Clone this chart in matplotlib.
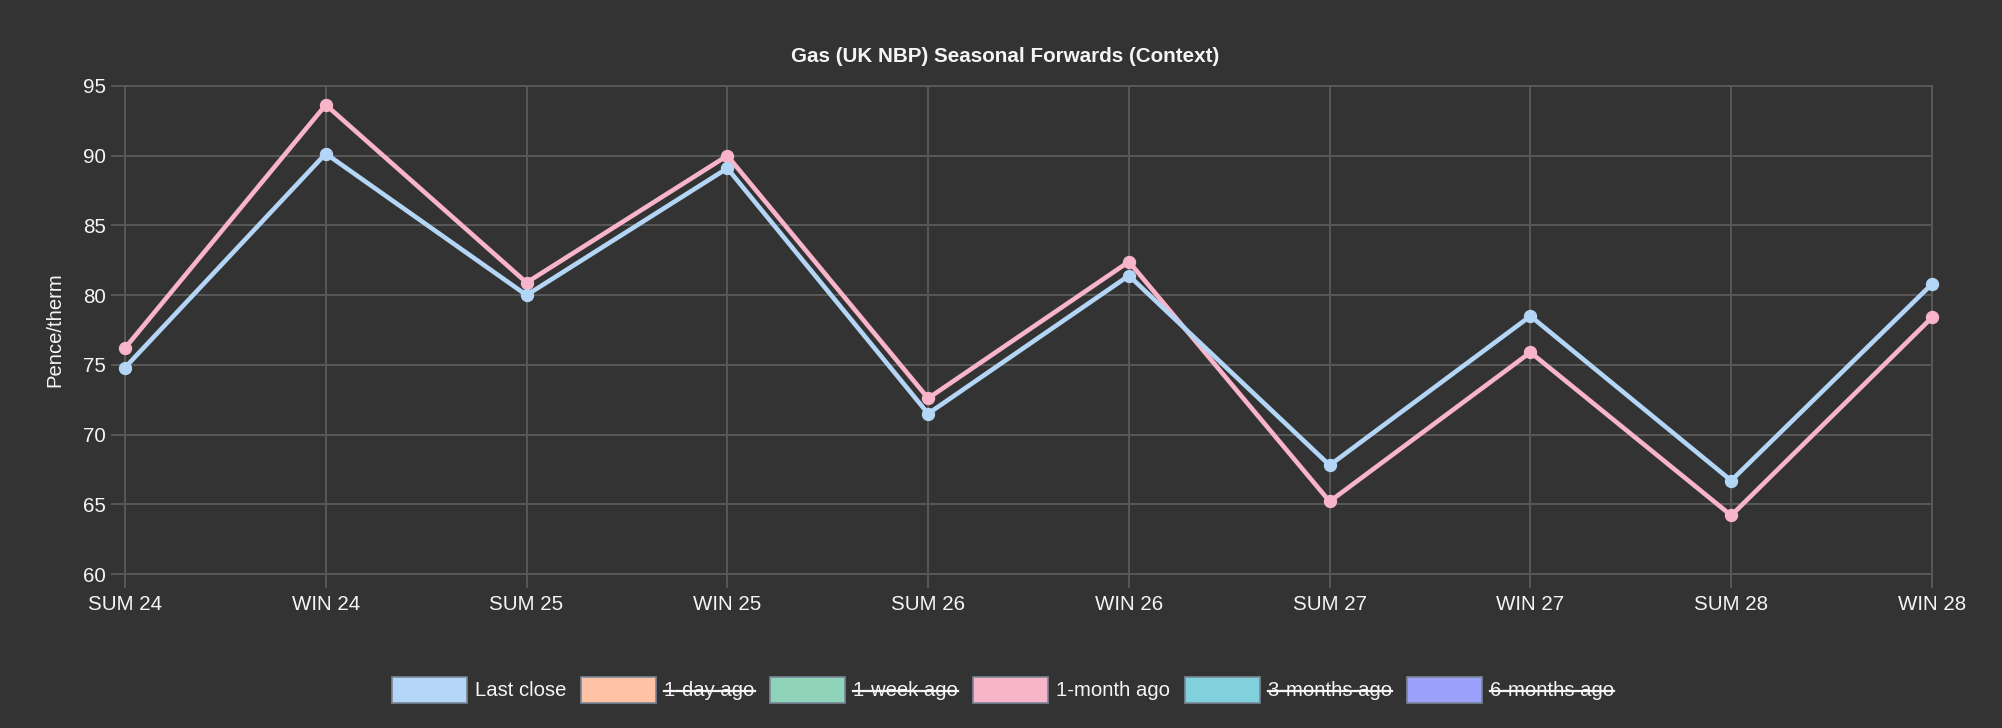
import matplotlib
matplotlib.use("Agg")
import matplotlib.pyplot as plt
from matplotlib.patches import Rectangle
from matplotlib.lines import Line2D

plt.rcParams['font.family'] = ['Liberation Sans', 'DejaVu Sans']

categories = ["SUM 24", "WIN 24", "SUM 25", "WIN 25", "SUM 26", "WIN 26",
              "SUM 27", "WIN 27", "SUM 28", "WIN 28"]
last_close = [74.8, 90.15, 80.0, 89.1, 71.5, 81.4, 67.8, 78.5, 66.7, 80.8]
month_ago = [76.2, 93.65, 80.9, 90.0, 72.6, 82.4, 65.2, 75.9, 64.2, 78.4]
y_ticks = [60, 65, 70, 75, 80, 85, 90, 95]

legend_labels = ["Last close", "1-day ago", "1-week ago", "1-month ago",
                 "3-months ago", "6-months ago"]
legend_colors = ["#b3d5f6", "#ffc2a5", "#8fd3bb", "#f8b4c9", "#80d1dc", "#9ba0fa"]
legend_hidden = [False, True, True, False, True, True]

BG = "#333333"
GRID = "#595959"
TXT = "#f5f5f5"

W, H = 2002, 728
fig = plt.figure(figsize=(W / 100, H / 100), dpi=100, facecolor=BG)
ax = fig.add_axes([125 / W, 1 - 574 / H, (1932 - 125) / W, (574 - 86) / H])
ax.set_facecolor(BG)

x = list(range(len(categories)))
ax.plot(x, month_ago, color=legend_colors[3], lw=3.3, marker='o', ms=8.6,
        mec=legend_colors[3], mfc=legend_colors[3], clip_on=False, zorder=3)
ax.plot(x, last_close, color=legend_colors[0], lw=3.3, marker='o', ms=8.6,
        mec=legend_colors[0], mfc=legend_colors[0], clip_on=False, zorder=4)

ax.set_xlim(0, len(categories) - 1)
ax.set_ylim(60, 95)
ax.set_xticks(x)
ax.set_xticklabels(categories)
ax.set_yticks(y_ticks)
ax.grid(True, color=GRID, lw=1.4)
ax.set_axisbelow(True)
for s in ax.spines.values():
    s.set_color(GRID)
    s.set_linewidth(1.4)
ax.tick_params(axis='both', colors=GRID, length=10, width=1.4, labelsize=14.8,
               labelcolor=TXT)
ax.tick_params(axis='x', pad=5)
ax.tick_params(axis='y', pad=4)
ax.set_ylabel("Pence/therm", color=TXT, fontsize=14.6, labelpad=13)

fig.text(1005 / W, 1 - 56 / H, "Gas (UK NBP) Seasonal Forwards (Context)",
         color=TXT, fontsize=14.9, fontweight='bold', ha='center', va='center')

# legend drawn manually, centred
fig.canvas.draw()
renderer = fig.canvas.get_renderer()
box_w, box_h, pad, gap = 75, 26, 8, 15
widths = []
for lab in legend_labels:
    t = fig.text(0, 0, lab, fontsize=14.6)
    widths.append(t.get_window_extent(renderer).width)
    t.remove()
total = sum(box_w + pad + w for w in widths) + gap * (len(widths) - 1)
cx = 1003
xpos = cx - total / 2
yc = 690
for lab, col, hid, w in zip(legend_labels, legend_colors, legend_hidden, widths):
    fig.patches.append(Rectangle((xpos / W, 1 - (yc + box_h / 2) / H), box_w / W, box_h / H,
                                 transform=fig.transFigure, facecolor=col,
                                 edgecolor="#7a8696", lw=1.2))
    tx = xpos + box_w + pad
    fig.text(tx / W, 1 - yc / H, lab, color=TXT, fontsize=14.6, ha='left', va='center')
    if hid:
        fig.lines.append(Line2D([tx / W, (tx + w) / W], [1 - (yc + 1) / H, 1 - (yc + 1) / H],
                                transform=fig.transFigure, color=TXT, lw=1.6))
    xpos += box_w + pad + w + gap

fig.savefig("out.png", dpi=100, facecolor=BG)
